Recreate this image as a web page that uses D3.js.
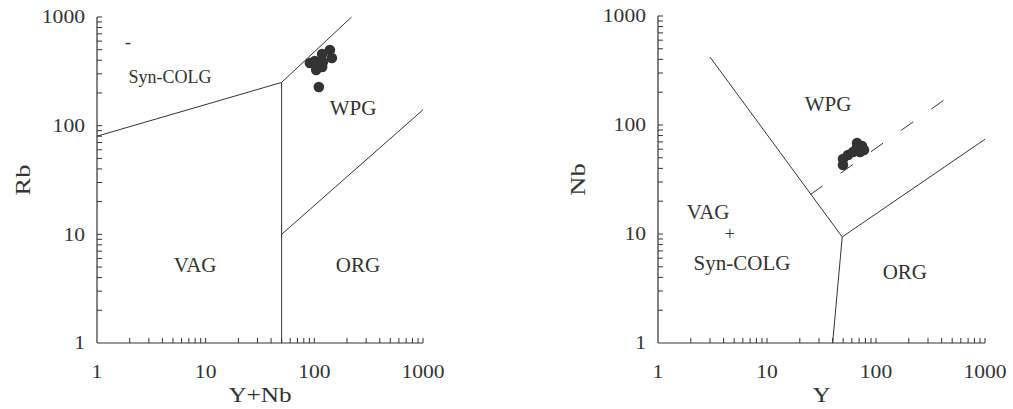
<!DOCTYPE html>
<html>
<head>
<meta charset="utf-8">
<script src="https://cdn.jsdelivr.net/npm/d3@7"></script>
<style>
  html, body { margin: 0; padding: 0; background: #fff; }
  svg text { font-family: "Liberation Serif", "Times New Roman", serif; fill: #333; }
</style>
</head>
<body>
<div id="chart"></div>
<script>
// tick values shared by both panels
const decadeTicks = [1, 10, 100, 1000];

// left panel: Rb vs (Y+Nb)
const leftYNb = [91, 101, 118, 139, 145, 120, 104, 118, 110];
const leftRb  = [377, 394, 456, 497, 419, 385, 325, 347, 227];

// boundary lines, in data units
const leftBoundaries = [
  [[1, 80], [50, 250], [220, 1000]],
  [[50, 1], [50, 250]],
  [[50, 10], [1000, 140]]
];
const leftFields = ["Syn-COLG", "WPG", "VAG", "ORG", "-"];
const leftFieldAt = [[4.7, 280], [227, 145], [8, 5.3], [252, 5.3], [1.93, 590]];

// right panel: Nb vs Y
const rightY  = [49.8, 49.8, 55.3, 61.5, 67, 67, 74.4, 77.6, 71.3];
const rightNb = [43, 48.7, 53, 56.5, 62.8, 68.4, 64.2, 59, 56.5];

const rightBoundaries = [
  [[3, 420], [49, 9.4], [1000, 74]],
  [[49, 9.4], [40, 1]]
];
const rightDashed = [[25, 23], [430, 172]];
const rightFields = ["WPG", "VAG", "+", "Syn-COLG", "ORG"];
const rightFieldAt = [[36.3, 156], [2.88, 15.9], [4.57, 10], [5.9, 5.5], [184, 4.5]];

const width = 1013, height = 409;
const ink = "#333";

const svg = d3.select("#chart").append("svg")
  .attr("width", width)
  .attr("height", height);

function drawPanel(opts) {
  const x = d3.scaleLog().domain([1, 1000]).range(opts.xRange);
  const y = d3.scaleLog().domain([1, 1000]).range(opts.yRange);
  const g = svg.append("g");

  // minor + major ticks, pointing inward
  const allTicks = [];
  for (let d = 1; d < 1000; d *= 10) {
    for (let k = 1; k < 10; k++) allTicks.push(d * k);
  }
  allTicks.push(1000);

  const x0 = opts.xRange[0], y0 = opts.yRange[0];

  g.selectAll(".xtick").data(allTicks.filter(v => v > 1)).enter()
    .append("line")
    .attr("x1", d => x(d)).attr("x2", d => x(d))
    .attr("y1", y0).attr("y2", y0 - 5)
    .attr("stroke", ink).attr("stroke-width", 1);

  g.selectAll(".ytick").data(allTicks.filter(v => v > 1)).enter()
    .append("line")
    .attr("x1", x0).attr("x2", x0 + 5)
    .attr("y1", d => y(d)).attr("y2", d => y(d))
    .attr("stroke", ink).attr("stroke-width", 1);

  // axis lines
  g.append("line")
    .attr("x1", x0).attr("x2", opts.xRange[1])
    .attr("y1", y0).attr("y2", y0)
    .attr("stroke", ink).attr("stroke-width", 1.2);
  g.append("line")
    .attr("x1", x0).attr("x2", x0)
    .attr("y1", y0).attr("y2", opts.yRange[1])
    .attr("stroke", ink).attr("stroke-width", 1.2);

  // tick labels (slightly wide serif, as in the scan)
  g.selectAll(".xlab").data(decadeTicks).enter()
    .append("text")
    .attr("transform", d => `translate(${x(d)},${y0 + 35}) scale(1.2,1)`)
    .attr("text-anchor", "middle")
    .attr("font-size", 18)
    .text(d => d);

  g.selectAll(".ylab").data(decadeTicks).enter()
    .append("text")
    .attr("transform", d => `translate(${x0 - 12},${y(d)}) scale(1.2,1)`)
    .attr("text-anchor", "end")
    .attr("dy", "0.35em")
    .attr("font-size", 18)
    .text(d => d);

  // axis titles
  g.append("text")
    .attr("transform", `translate(${(x0 + opts.xRange[1]) / 2},${y0 + 59}) scale(1.2,1)`)
    .attr("text-anchor", "middle")
    .attr("font-size", 21)
    .text(opts.xTitle);
  g.append("text")
    .attr("transform", `translate(${opts.yTitleX},${(y0 + opts.yRange[1]) / 2}) rotate(-90) scale(1.2,1)`)
    .attr("text-anchor", "middle")
    .attr("dy", "0.35em")
    .attr("font-size", 22)
    .text(opts.yTitle);

  // field boundaries
  const line = d3.line().x(d => x(d[0])).y(d => y(d[1]));
  g.selectAll(".boundary").data(opts.boundaries).enter()
    .append("path")
    .attr("d", line)
    .attr("fill", "none")
    .attr("stroke", ink)
    .attr("stroke-width", 1);

  if (opts.dashed) {
    g.append("path")
      .attr("d", line(opts.dashed))
      .attr("fill", "none")
      .attr("stroke", ink)
      .attr("stroke-width", 1)
      .attr("stroke-dasharray", "15,22");
  }

  // field names
  g.selectAll(".field").data(opts.fields).enter()
    .append("text")
    .attr("x", (d, i) => x(opts.fieldAt[i][0]))
    .attr("y", (d, i) => y(opts.fieldAt[i][1]))
    .attr("text-anchor", "middle")
    .attr("dy", "0.35em")
    .attr("font-size", (d, i) => opts.fieldSizes[i])
    .text(d => d);

  // samples
  g.selectAll(".dot").data(opts.xs).enter()
    .append("circle")
    .attr("cx", d => x(d))
    .attr("cy", (d, i) => y(opts.ys[i]))
    .attr("r", 5.3)
    .attr("fill", ink);
}

drawPanel({
  xRange: [97, 423], yRange: [343, 17],
  xTitle: "Y+Nb", yTitle: "Rb", yTitleX: 22,
  boundaries: leftBoundaries,
  fields: leftFields, fieldAt: leftFieldAt, fieldSizes: [18, 21, 21, 21, 18],
  xs: leftYNb, ys: leftRb
});

drawPanel({
  xRange: [658, 985], yRange: [343, 16],
  xTitle: "Y", yTitle: "Nb", yTitleX: 577,
  boundaries: rightBoundaries, dashed: rightDashed,
  fields: rightFields, fieldAt: rightFieldAt, fieldSizes: [21, 21, 18, 21, 21],
  xs: rightY, ys: rightNb
});
</script>
</body>
</html>
